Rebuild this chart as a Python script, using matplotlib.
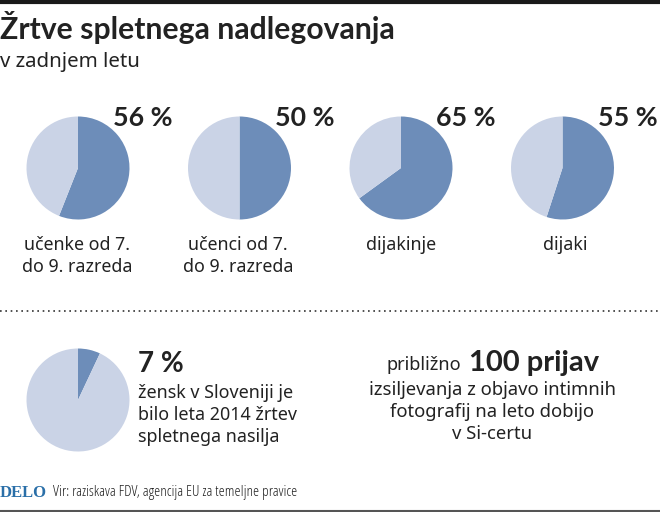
import matplotlib
matplotlib.use('Agg')
import matplotlib.pyplot as plt

W, H = 660, 512
DARK = '#222222'
BLUE = '#6d8db9'
LIGHT = '#cad3e6'
BOLD_FONT = 'Lato'

plt.rcParams['font.family'] = ['Noto Sans', 'DejaVu Sans']

top_values = [56, 50, 65, 55]
top_labels = ['učenke od 7.\ndo 9. razreda', 'učenci od 7.\ndo 9. razreda', 'dijakinje', 'dijaki']
top_percent = ['56 %', '50 %', '65 %', '55 %']
bottom_value = 7

fig = plt.figure(figsize=(W / 100, H / 100), dpi=100)
bg = fig.add_axes([0, 0, 1, 1])
bg.set_xlim(0, W)
bg.set_ylim(H, 0)
bg.axis('off')


def pie_at(cx, cy, r, value):
    ax = fig.add_axes([(cx - r) / W, 1 - (cy + r) / H, 2 * r / W, 2 * r / H])
    ax.pie([value, 100 - value], colors=[BLUE, LIGHT], startangle=90, counterclock=False,
           radius=1, wedgeprops={'linewidth': 0})
    ax.set_xlim(-1, 1)
    ax.set_ylim(-1, 1)
    ax.set_zorder(1)


bg.plot([0, W], [1.5, 1.5], color='#1a1a1a', lw=3, solid_capstyle='butt')
bg.plot([0, W], [510.5, 510.5], color='#555555', lw=1.5, solid_capstyle='butt')

bg.text(0, 28, 'Žrtve spletnega nadlegovanja', fontsize=21.7, fontweight='bold', family=BOLD_FONT,
        color=DARK, va='center')
bg.text(0, 62, 'v zadnjem letu', fontsize=14.7, color=DARK, va='center')

centers = [78, 239.5, 401, 562.5]
label_x = [77, 238, 401, 565]
for cx, lx, val, lab, pct in zip(centers, label_x, top_values, top_labels, top_percent):
    pie_at(cx, 168, 51.5, val)
    bg.text(cx + 65, 118, pct, fontsize=19.3, fontweight='bold', family=BOLD_FONT, color=DARK,
            ha='center', va='center')
    bg.text(lx, 236, lab, fontsize=12.8, color=DARK, ha='center', va='top', linespacing=1.32)

bg.plot([0, W], [311, 311], color='#333333', lw=1.2, ls=(0, (1, 2.2)))

pie_at(78, 400, 51.5, bottom_value)
bg.text(138, 364, '7 %', fontsize=20, fontweight='bold', family=BOLD_FONT, color=DARK, va='center')
bg.text(138, 415, 'žensk v Sloveniji je\nbilo leta 2014 žrtev\nspletnega nasilja', fontsize=12.9,
        color=DARK, va='center', linespacing=1.32)

bg.text(387, 365, 'približno', fontsize=13.1, color=DARK, va='center')
bg.text(469, 363, '100 prijav', fontsize=21, fontweight='bold', family=BOLD_FONT, color=DARK, va='center')
bg.text(492.5, 412, 'izsiljevanja z objavo intimnih\nfotografij na leto dobijo\nv Si-certu', fontsize=13.3,
        color=DARK, ha='center', va='center', linespacing=1.27)

bg.text(0, 493, 'DELO', fontsize=12, fontweight='bold', family='Liberation Serif', color='#2a6fa8', va='center')
bg.text(53, 493, 'Vir: raziskava FDV, agencija EU za temeljne pravice', fontsize=11, family='Open Sans',
        stretch='condensed', color=DARK, va='center')

fig.savefig('out.png', dpi=100)
